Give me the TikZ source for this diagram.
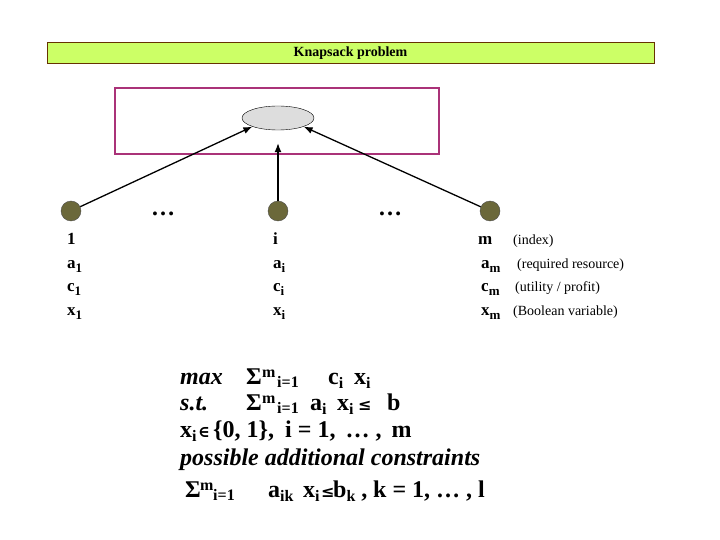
\documentclass[tikz,border=0pt]{standalone}
\usepackage{fontspec}
\setmainfont{Liberation Serif}
\newfontfamily\symf{DejaVu Serif}
\usetikzlibrary{shapes.geometric, arrows.meta}

\definecolor{bannerfill}{RGB}{204,255,102}
\definecolor{bannerline}{RGB}{102,51,0}
\definecolor{boxline}{RGB}{170,50,120}
\definecolor{itemfill}{RGB}{107,104,58}
\definecolor{knapfill}{RGB}{221,221,221}

\newcommand{\lblf}{\fontsize{17}{20}\selectfont\bfseries}
\newcommand{\notef}{\fontsize{14}{17}\selectfont}
\newcommand{\formf}{\fontsize{24}{28}\selectfont\bfseries}
\newcommand{\smallf}{\fontsize{16}{19}\selectfont\bfseries}
% lowered indices
\newcommand{\lsub}[1]{\raisebox{-4pt}{\fontsize{13}{15}\selectfont #1}}
\newcommand{\fsub}[1]{\raisebox{-4pt}{\fontsize{16}{19}\selectfont #1}}

\begin{document}
\begin{tikzpicture}[x=1pt, y=-1pt,
    item/.style={circle, draw=black!70, fill=itemfill, minimum size=20pt, inner sep=0pt},
    arr/.style={-{Latex[length=9pt, width=7pt]}, line width=1.3pt},
    lbl/.style={anchor=base west, inner sep=0pt, font=\lblf},
    note/.style={anchor=base west, inner sep=0pt, font=\notef},
    term/.style={anchor=base west, inner sep=0pt, font=\formf},
    small/.style={anchor=base west, inner sep=0pt, font=\smallf}]
        \useasboundingbox (0, 0) rectangle (720, 540);

        % title banner
        \node (banner) at (350.5, 53.5) [draw=bannerline, fill=bannerfill, line width=1pt,
            minimum width=607pt, minimum height=21pt, inner sep=0pt, font=\fontsize{14}{16}\selectfont\bfseries] {Knapsack problem};

        % knapsack
        \node (box) at (277, 121) [draw=boxline, line width=1.2pt, minimum width=324pt, minimum height=66pt, inner sep=0pt] {};
        \node (ell) at (278, 118) [ellipse, draw, fill=knapfill, minimum width=72pt, minimum height=24pt, inner sep=0pt] {};

        % items
        \node (v-1) at (71, 211) [item] {};
        \node (v-i) at (278, 211) [item] {};
        \node (v-m) at (490, 211) [item] {};
        \node (dots-1) at (163, 215) [anchor=base, inner sep=0pt, font=\formf] {…};
        \node (dots-2) at (390, 215) [anchor=base, inner sep=0pt, font=\formf] {…};

        \draw[arr] (v-1) -- (ell.south west);
        \draw[arr, shorten >=13pt] (v-i) -- (ell.south);
        \draw[arr] (v-m) -- (ell.south east);

        % item labels
        \node (l-1) at (67, 244) [lbl] {1};
        \node (a-1) at (67, 268) [lbl] {a\lsub{1}};
        \node (c-1) at (67, 291) [lbl] {c\lsub{1}};
        \node (x-1) at (67, 315) [lbl] {x\lsub{1}};

        \node (l-i) at (273, 244) [lbl] {i};
        \node (a-i) at (273, 268) [lbl] {a\lsub{i}};
        \node (c-i) at (273, 291) [lbl] {c\lsub{i}};
        \node (x-i) at (273, 315) [lbl] {x\lsub{i}};

        \node (l-m) at (478, 244) [lbl] {m};
        \node (a-m) at (481, 268) [lbl] {a\lsub{m}};
        \node (c-m) at (481, 291) [lbl] {c\lsub{m}};
        \node (x-m) at (481, 315) [lbl] {x\lsub{m}};

        \node (n-index) at (513, 244) [note] {(index)};
        \node (n-res) at (517, 268) [note] {(required resource)};
        \node (n-util) at (515, 291) [note] {(utility / profit)};
        \node (n-bool) at (513, 315) [note] {(Boolean variable)};

        % objective
        \node (o-max) at (180, 384) [term] {\itshape max};
        \node (o-sum) at (246, 384) [term] {Σ};
        \node (o-up) at (262, 377) [small] {m};
        \node (o-low) at (277, 387) [small] {i=1};
        \node (o-c) at (328, 384) [term] {c\fsub{i}};
        \node (o-x) at (354, 384) [term] {x\fsub{i}};

        % capacity constraint
        \node (s-st) at (180, 410) [term] {\itshape s.t.};
        \node (s-sum) at (246, 410) [term] {Σ};
        \node (s-up) at (262, 403) [small] {m};
        \node (s-low) at (277, 413) [small] {i=1};
        \node (s-a) at (310, 410) [term] {a\fsub{i}};
        \node (s-x) at (337, 410) [term] {x\fsub{i}};
        \node (s-le) at (358, 410) [small] {\symf ≤};
        \node (s-b) at (387, 410) [term] {b};

        % domain
        \node (d-x) at (180, 437) [term] {x\fsub{i}};
        \node (d-in) at (198, 437) [small] {\symf ∈};
        \node (d-set) at (213, 437) [term] {\{0, 1\},};
        \node (d-idx) at (285, 437) [term] {i = 1,\, … ,\, m};

        % additional constraints
        \node (p-text) at (180, 465) [term] {\itshape possible additional constraints};
        \node (k-sum) at (185, 497) [term] {Σ};
        \node (k-up) at (200, 490) [small] {m};
        \node (k-low) at (213, 500) [small] {i=1};
        \node (k-a) at (268, 497) [term] {a\fsub{ik}};
        \node (k-x) at (303, 497) [term] {x\fsub{i}};
        \node (k-le) at (321, 497) [small] {\symf ≤};
        \node (k-b) at (333, 497) [term] {b\fsub{k} ,};
        \node (k-idx) at (373, 497) [term] {k = 1, … , l};

    \end{tikzpicture}
\end{document}
